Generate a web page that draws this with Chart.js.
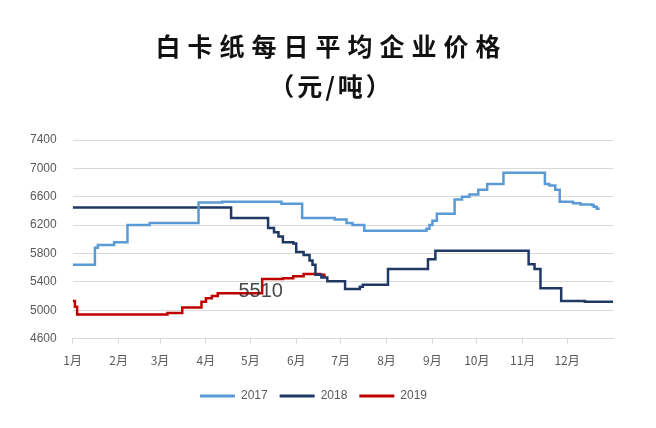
<!DOCTYPE html>
<html>
<head>
<meta charset="utf-8">
<script src="https://cdn.jsdelivr.net/npm/chart.js@4/dist/chart.umd.min.js"></script>
<style>
    html, body { margin: 0; padding: 0; background: #fff; }
    #wrap { position: relative; width: 656px; height: 428px; }
    #title {
        position: absolute; left: 0; top: 25px; width: 656px;
        text-align: center; font-family: "Noto Sans CJK SC", sans-serif;
        font-weight: bold; font-size: 25px; line-height: 40px;
        letter-spacing: 7px; padding-left: 7px; box-sizing: border-box; color: #111;
    }
    #title .unit { letter-spacing: 3px; }
</style>
</head>
<body>
<div id="wrap">
    <canvas id="priceChart" width="656" height="428"></canvas>
    <div id="title">白卡纸每日平均企业价格<br><span class="unit">（元/吨）</span></div>
</div>
<script>
// =========================
// DATA (day of year, price)
// =========================
const monthLabels = ['1月', '2月', '3月', '4月', '5月', '6月', '7月', '8月', '9月', '10月', '11月', '12月'];
const monthStartDays = [0, 31, 59, 90, 120, 151, 181, 212, 243, 273, 304, 334];

const days2017 = [0, 15, 17, 28, 37, 52, 85, 101, 141, 155, 177, 185, 189, 197, 239, 241, 243, 246, 258, 263, 268, 274, 280, 291, 316, 319, 322, 326, 329, 338, 343, 351, 352, 354, 356];
const price2017 = [5640, 5880, 5920, 5960, 6200, 6230, 6520, 6530, 6500, 6300, 6280, 6230, 6200, 6120, 6150, 6200, 6260, 6360, 6560, 6600, 6630, 6700, 6780, 6940, 6940, 6780, 6760, 6700, 6530, 6510, 6490, 6480, 6460, 6430, 6430];

const days2018 = [0, 107, 132, 136, 139, 142, 149, 151, 156, 160, 162, 164, 168, 172, 184, 194, 196, 213, 240, 245, 308, 312, 316, 330, 346, 365];
const price2018 = [6450, 6300, 6160, 6100, 6040, 5960, 5940, 5820, 5780, 5700, 5640, 5500, 5460, 5410, 5300, 5330, 5360, 5580, 5720, 5840, 5650, 5580, 5310, 5130, 5120, 5120];

const days2019 = [0, 1.5, 3, 64, 74, 87, 90, 94, 98, 128, 142, 149, 156, 167, 170];
const price2019 = [5130, 5050, 4940, 4960, 5040, 5120, 5170, 5200, 5240, 5440, 5450, 5480, 5510, 5500, 5460];

const yTicks = [4600, 5000, 5400, 5800, 6200, 6600, 7000, 7400];

// text label on the chart: [day, price, text]
const noteLabel = [127, 5265, '5510'];

function toPoints(xs, ys) {
    return xs.map(function (x, i) { return { x: x, y: ys[i] }; });
}

// =========================
// NOTE PLUGIN
// =========================
const notePlugin = {
    id: 'note',
    afterDatasetsDraw: function (chart) {
        const ctx = chart.ctx;
        const x = chart.scales.x.getPixelForValue(noteLabel[0]);
        const y = chart.scales.y.getPixelForValue(noteLabel[1]);
        ctx.save();
        ctx.font = '20px "Liberation Sans", Arial, sans-serif';
        ctx.fillStyle = 'rgba(40,40,40,0.85)';
        ctx.textAlign = 'center';
        ctx.textBaseline = 'middle';
        ctx.fillText(noteLabel[2], x, y);
        ctx.restore();
    }
};

const gray = '#595959';

new Chart(document.getElementById('priceChart'), {
    type: 'line',
    data: {
        datasets: [
            { label: '2017', data: toPoints(days2017, price2017), borderColor: '#5B9BD5', backgroundColor: '#5B9BD5', borderWidth: 2.5 },
            { label: '2018', data: toPoints(days2018, price2018), borderColor: '#203864', backgroundColor: '#203864', borderWidth: 2.5 },
            { label: '2019', data: toPoints(days2019, price2019), borderColor: '#C00000', backgroundColor: '#C00000', borderWidth: 2.5 }
        ]
    },
    options: {
        responsive: false,
        animation: false,
        stepped: true,
        pointRadius: 0,
        layout: { padding: { top: 140, left: 14, right: 43, bottom: 16 } },
        scales: {
            x: {
                type: 'linear',
                min: 0,
                max: 365,
                afterBuildTicks: function (axis) {
                    axis.ticks = monthStartDays.map(function (d) { return { value: d }; });
                },
                ticks: {
                    autoSkip: false,
                    maxRotation: 0,
                    color: gray,
                    font: { size: 12, family: '"Noto Sans CJK SC", sans-serif' },
                    padding: 10,
                    callback: function (value) {
                        const i = monthStartDays.indexOf(value);
                        return i >= 0 ? monthLabels[i] : '';
                    }
                },
                grid: { drawOnChartArea: false, drawTicks: true, tickLength: 5, color: '#D9D9D9' },
                border: { display: true, color: '#D9D9D9', width: 1 }
            },
            y: {
                min: 4600,
                max: 7400,
                afterBuildTicks: function (axis) {
                    axis.ticks = yTicks.map(function (v) { return { value: v }; });
                },
                ticks: {
                    color: gray,
                    font: { size: 12, family: '"Liberation Sans", Arial, sans-serif' },
                    padding: 16,
                    callback: function (value) { return String(value); }
                },
                grid: { color: '#D9D9D9', drawTicks: false },
                border: { display: false }
            }
        },
        plugins: {
            legend: {
                position: 'bottom',
                labels: {
                    boxWidth: 35,
                    boxHeight: 3,
                    padding: 12,
                    color: gray,
                    font: { size: 12, family: '"Liberation Sans", Arial, sans-serif' },
                    generateLabels: function (chart) {
                        return Chart.defaults.plugins.legend.labels.generateLabels(chart).map(function (item) {
                            item.lineWidth = 0;
                            return item;
                        });
                    }
                }
            },
            tooltip: { enabled: false }
        }
    },
    plugins: [notePlugin]
});
</script>
</body>
</html>
